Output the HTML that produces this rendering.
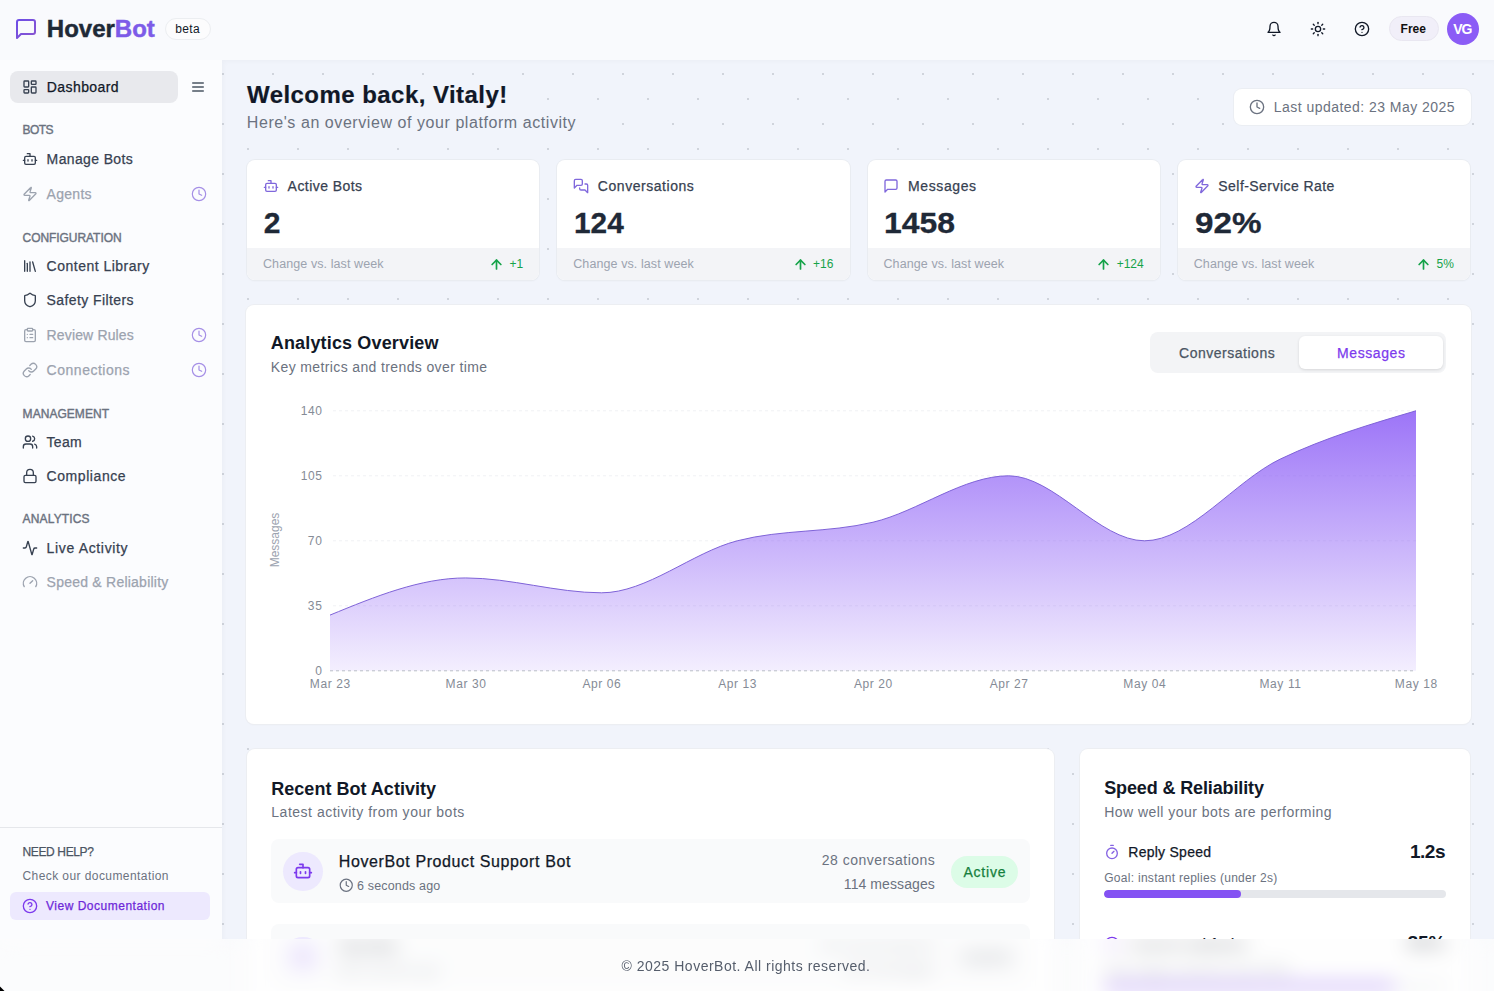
<!DOCTYPE html>
<html><head><meta charset="utf-8"><title>HoverBot Dashboard</title>
<style>
html,body{margin:0;padding:0;width:1494px;height:991px;overflow:hidden;background:#f8f9fc;font-family:"Liberation Sans",sans-serif}
</style></head><body>
<div style="position:absolute;left:0;top:0;width:1494px;height:939px;overflow:hidden"><div id="hdr" style="position:absolute;left:0;top:0;width:1494px;height:60px;background:#f9fafd"></div><svg style="position:absolute;left:14px;top:17px;" width="24" height="24" viewBox="0 0 24 24" fill="none" stroke="url(#lg)" stroke-width="2" stroke-linecap="round" stroke-linejoin="round"><path d="M21 15a2 2 0 0 1-2 2H7l-4 4V5a2 2 0 0 1 2-2h14a2 2 0 0 1 2 2z"/></svg><div style="position:absolute;left:46.80px;top:16.88px;white-space:nowrap;font-size:24px;font-weight:700;line-height:24px;color:#1f2937;letter-spacing:0.000px;-webkit-text-stroke:0.45px #1f2937">Hover</div><div style="position:absolute;left:114.83px;top:16.88px;white-space:nowrap;font-size:24px;font-weight:700;line-height:24px;color:#7d5be8;letter-spacing:0.000px;-webkit-text-stroke:0.45px #7d5be8">Bot</div><div style="position:absolute;left:164.5px;top:18px;width:46px;height:21.5px;border:1px solid #eceef1;border-radius:11px;background:#fcfcfd;box-sizing:border-box"></div><div style="position:absolute;left:175.30px;top:22.54px;white-space:nowrap;font-size:12px;font-weight:400;line-height:12px;color:#111827;letter-spacing:0.314px;">beta</div><svg style="position:absolute;left:1266px;top:21px;" width="16" height="16" viewBox="0 0 24 24" fill="none" stroke="#111827" stroke-width="2" stroke-linecap="round" stroke-linejoin="round"><path d="M6 8a6 6 0 0 1 12 0c0 7 3 9 3 9H3s3-2 3-9"/><path d="M10.3 21a1.94 1.94 0 0 0 3.4 0"/></svg><svg style="position:absolute;left:1310px;top:21px;" width="16" height="16" viewBox="0 0 24 24" fill="none" stroke="#111827" stroke-width="2" stroke-linecap="round" stroke-linejoin="round"><circle cx="12" cy="12" r="4"/><path d="M12 2v2"/><path d="M12 20v2"/><path d="m4.93 4.93 1.41 1.41"/><path d="m17.66 17.66 1.41 1.41"/><path d="M2 12h2"/><path d="M20 12h2"/><path d="m6.34 17.66-1.41 1.41"/><path d="m19.07 4.93-1.41 1.41"/></svg><svg style="position:absolute;left:1354px;top:21px;" width="16" height="16" viewBox="0 0 24 24" fill="none" stroke="#111827" stroke-width="2" stroke-linecap="round" stroke-linejoin="round"><circle cx="12" cy="12" r="10"/><path d="M9.09 9a3 3 0 0 1 5.83 1c0 2-3 3-3 3"/><path d="M12 17h.01"/></svg><div style="position:absolute;left:1388.5px;top:15.7px;width:50.4px;height:25.8px;border:1px solid #e9e7f1;border-radius:13px;background:#f1eff9;box-sizing:border-box"></div><div style="position:absolute;left:1400.60px;top:23.24px;white-space:nowrap;font-size:12px;font-weight:700;line-height:12px;color:#111111;letter-spacing:0.014px;">Free</div><div style="position:absolute;left:1447px;top:12.8px;width:32px;height:32px;border-radius:50%;background:#8b5cf6"></div><div style="position:absolute;left:1453.30px;top:22.35px;white-space:nowrap;font-size:14px;font-weight:700;line-height:14px;color:#ffffff;letter-spacing:-1.234px;">VG</div><div style="position:absolute;left:0;top:60px;width:222px;height:880px;background:#fbfcfe"></div><div style="position:absolute;left:10px;top:71px;width:168px;height:32px;border-radius:8px;background:#e8e9ed"></div><svg style="position:absolute;left:21.5px;top:79px;" width="16" height="16" viewBox="0 0 24 24" fill="none" stroke="#374151" stroke-width="2" stroke-linecap="round" stroke-linejoin="round"><rect width="7" height="9" x="3" y="3" rx="1"/><rect width="7" height="5" x="14" y="3" rx="1"/><rect width="7" height="9" x="14" y="12" rx="1"/><rect width="7" height="5" x="3" y="16" rx="1"/></svg><div style="position:absolute;left:46.80px;top:80.15px;white-space:nowrap;font-size:14px;font-weight:500;-webkit-text-stroke:0.25px #111827;line-height:14px;color:#111827;letter-spacing:0.412px;">Dashboard</div><svg style="position:absolute;left:190px;top:79px;" width="16" height="16" viewBox="0 0 24 24" fill="none" stroke="#4b5563" stroke-width="2" stroke-linecap="round" stroke-linejoin="round"><line x1="4" x2="20" y1="12" y2="12"/><line x1="4" x2="20" y1="6" y2="6"/><line x1="4" x2="20" y1="18" y2="18"/></svg><div style="position:absolute;left:22.60px;top:124.44px;white-space:nowrap;font-size:12px;font-weight:500;-webkit-text-stroke:0.25px #6b7280;line-height:12px;color:#6b7280;letter-spacing:-0.557px;-webkit-text-stroke:0.4px #6b7280">BOTS</div><svg style="position:absolute;left:21.5px;top:150.89999999999998px;" width="16" height="16" viewBox="0 0 24 24" fill="none" stroke="#374151" stroke-width="2" stroke-linecap="round" stroke-linejoin="round"><path d="M12 8V4H8"/><rect width="16" height="12" x="4" y="8" rx="2"/><path d="M2 14h2"/><path d="M20 14h2"/><path d="M15 13v2"/><path d="M9 13v2"/></svg><div style="position:absolute;left:46.60px;top:151.85px;white-space:nowrap;font-size:14px;font-weight:500;-webkit-text-stroke:0.25px #374151;line-height:14px;color:#374151;letter-spacing:0.370px;">Manage Bots</div><svg style="position:absolute;left:21.5px;top:185.7px;" width="16" height="16" viewBox="0 0 24 24" fill="none" stroke="#9ca3af" stroke-width="2" stroke-linecap="round" stroke-linejoin="round"><path d="M4 14a1 1 0 0 1-.78-1.63l9.9-10.2a.5.5 0 0 1 .86.46l-1.92 6.02A1 1 0 0 0 13 10h7a1 1 0 0 1 .78 1.63l-9.9 10.2a.5.5 0 0 1-.86-.46l1.92-6.02A1 1 0 0 0 11 14z"/></svg><div style="position:absolute;left:46.60px;top:186.65px;white-space:nowrap;font-size:14px;font-weight:500;-webkit-text-stroke:0.25px #9ca3af;line-height:14px;color:#9ca3af;letter-spacing:0.281px;">Agents</div><svg style="position:absolute;left:191px;top:185.7px;" width="16" height="16" viewBox="0 0 24 24" fill="none" stroke="#a58fe6" stroke-width="1.8" stroke-linecap="round" stroke-linejoin="round"><circle cx="12" cy="12" r="10"/><polyline points="12 6 12 12 16 14"/></svg><div style="position:absolute;left:22.60px;top:231.84px;white-space:nowrap;font-size:12px;font-weight:500;-webkit-text-stroke:0.25px #6b7280;line-height:12px;color:#6b7280;letter-spacing:-0.065px;-webkit-text-stroke:0.4px #6b7280">CONFIGURATION</div><svg style="position:absolute;left:21.5px;top:258.2px;" width="16" height="16" viewBox="0 0 24 24" fill="none" stroke="#374151" stroke-width="2" stroke-linecap="round" stroke-linejoin="round"><path d="m16 6 4 14"/><path d="M12 6v14"/><path d="M8 8v12"/><path d="M4 4v16"/></svg><div style="position:absolute;left:46.60px;top:259.15px;white-space:nowrap;font-size:14px;font-weight:500;-webkit-text-stroke:0.25px #374151;line-height:14px;color:#374151;letter-spacing:0.492px;">Content Library</div><svg style="position:absolute;left:21.5px;top:292.2px;" width="16" height="16" viewBox="0 0 24 24" fill="none" stroke="#374151" stroke-width="2" stroke-linecap="round" stroke-linejoin="round"><path d="M20 13c0 5-3.5 7.5-7.66 8.95a1 1 0 0 1-.67-.01C7.5 20.5 4 18 4 13V6a1 1 0 0 1 1-1c2 0 4.5-1.2 6.24-2.72a1.17 1.17 0 0 1 1.52 0C14.51 3.81 17 5 19 5a1 1 0 0 1 1 1z"/></svg><div style="position:absolute;left:46.60px;top:293.15px;white-space:nowrap;font-size:14px;font-weight:500;-webkit-text-stroke:0.25px #374151;line-height:14px;color:#374151;letter-spacing:0.407px;">Safety Filters</div><svg style="position:absolute;left:21.5px;top:326.9px;" width="16" height="16" viewBox="0 0 24 24" fill="none" stroke="#9ca3af" stroke-width="2" stroke-linecap="round" stroke-linejoin="round"><rect width="8" height="4" x="8" y="2" rx="1" ry="1"/><path d="M16 4h2a2 2 0 0 1 2 2v14a2 2 0 0 1-2 2H6a2 2 0 0 1-2-2V6a2 2 0 0 1 2-2h2"/><path d="M12 11h4"/><path d="M12 16h4"/><path d="M8 11h.01"/><path d="M8 16h.01"/></svg><div style="position:absolute;left:46.60px;top:327.85px;white-space:nowrap;font-size:14px;font-weight:500;-webkit-text-stroke:0.25px #9ca3af;line-height:14px;color:#9ca3af;letter-spacing:0.146px;">Review Rules</div><svg style="position:absolute;left:191px;top:326.9px;" width="16" height="16" viewBox="0 0 24 24" fill="none" stroke="#a58fe6" stroke-width="1.8" stroke-linecap="round" stroke-linejoin="round"><circle cx="12" cy="12" r="10"/><polyline points="12 6 12 12 16 14"/></svg><svg style="position:absolute;left:21.5px;top:361.59999999999997px;" width="16" height="16" viewBox="0 0 24 24" fill="none" stroke="#9ca3af" stroke-width="2" stroke-linecap="round" stroke-linejoin="round"><path d="M10 13a5 5 0 0 0 7.54.54l3-3a5 5 0 0 0-7.07-7.07l-1.72 1.71"/><path d="M14 11a5 5 0 0 0-7.54-.54l-3 3a5 5 0 0 0 7.07 7.07l1.71-1.71"/></svg><div style="position:absolute;left:46.60px;top:362.55px;white-space:nowrap;font-size:14px;font-weight:500;-webkit-text-stroke:0.25px #9ca3af;line-height:14px;color:#9ca3af;letter-spacing:0.517px;">Connections</div><svg style="position:absolute;left:191px;top:361.59999999999997px;" width="16" height="16" viewBox="0 0 24 24" fill="none" stroke="#a58fe6" stroke-width="1.8" stroke-linecap="round" stroke-linejoin="round"><circle cx="12" cy="12" r="10"/><polyline points="12 6 12 12 16 14"/></svg><div style="position:absolute;left:22.60px;top:408.04px;white-space:nowrap;font-size:12px;font-weight:500;-webkit-text-stroke:0.25px #6b7280;line-height:12px;color:#6b7280;letter-spacing:0.043px;-webkit-text-stroke:0.4px #6b7280">MANAGEMENT</div><svg style="position:absolute;left:21.5px;top:434.2px;" width="16" height="16" viewBox="0 0 24 24" fill="none" stroke="#374151" stroke-width="2" stroke-linecap="round" stroke-linejoin="round"><path d="M16 21v-2a4 4 0 0 0-4-4H6a4 4 0 0 0-4 4v2"/><circle cx="9" cy="7" r="4"/><path d="M22 21v-2a4 4 0 0 0-3-3.87"/><path d="M16 3.13a4 4 0 0 1 0 7.75"/></svg><div style="position:absolute;left:46.60px;top:435.15px;white-space:nowrap;font-size:14px;font-weight:500;-webkit-text-stroke:0.25px #374151;line-height:14px;color:#374151;letter-spacing:0.255px;">Team</div><svg style="position:absolute;left:21.5px;top:468.3px;" width="16" height="16" viewBox="0 0 24 24" fill="none" stroke="#374151" stroke-width="2" stroke-linecap="round" stroke-linejoin="round"><rect width="18" height="11" x="3" y="11" rx="2" ry="2"/><path d="M7 11V7a5 5 0 0 1 10 0v4"/></svg><div style="position:absolute;left:46.60px;top:469.25px;white-space:nowrap;font-size:14px;font-weight:500;-webkit-text-stroke:0.25px #374151;line-height:14px;color:#374151;letter-spacing:0.562px;">Compliance</div><div style="position:absolute;left:22.60px;top:513.34px;white-space:nowrap;font-size:12px;font-weight:500;-webkit-text-stroke:0.25px #6b7280;line-height:12px;color:#6b7280;letter-spacing:0.150px;-webkit-text-stroke:0.4px #6b7280">ANALYTICS</div><svg style="position:absolute;left:21.5px;top:539.6px;" width="16" height="16" viewBox="0 0 24 24" fill="none" stroke="#374151" stroke-width="2" stroke-linecap="round" stroke-linejoin="round"><path d="M22 12h-2.48a2 2 0 0 0-1.93 1.46l-2.35 8.36a.25.25 0 0 1-.48 0L9.24 2.18a.25.25 0 0 0-.48 0l-2.35 8.36A2 2 0 0 1 4.49 12H2"/></svg><div style="position:absolute;left:46.60px;top:540.55px;white-space:nowrap;font-size:14px;font-weight:500;-webkit-text-stroke:0.25px #374151;line-height:14px;color:#374151;letter-spacing:0.655px;">Live Activity</div><svg style="position:absolute;left:21.5px;top:573.9000000000001px;" width="16" height="16" viewBox="0 0 24 24" fill="none" stroke="#9ca3af" stroke-width="2" stroke-linecap="round" stroke-linejoin="round"><path d="m12 14 4-4"/><path d="M3.34 19a10 10 0 1 1 17.32 0"/></svg><div style="position:absolute;left:46.60px;top:574.85px;white-space:nowrap;font-size:14px;font-weight:500;-webkit-text-stroke:0.25px #9ca3af;line-height:14px;color:#9ca3af;letter-spacing:0.232px;">Speed & Reliability</div><div style="position:absolute;left:0;top:827px;width:222px;height:1px;background:#e5e7eb"></div><div style="position:absolute;left:22.50px;top:846.24px;white-space:nowrap;font-size:12px;font-weight:500;-webkit-text-stroke:0.25px #4b5563;line-height:12px;color:#4b5563;letter-spacing:-0.367px;">NEED HELP?</div><div style="position:absolute;left:22.50px;top:869.84px;white-space:nowrap;font-size:12px;font-weight:400;line-height:12px;color:#6b7280;letter-spacing:0.420px;">Check our documentation</div><div style="position:absolute;left:10.3px;top:892px;width:199.6px;height:27.5px;border-radius:6px;background:#ede9fe"></div><svg style="position:absolute;left:22px;top:898px;" width="16" height="16" viewBox="0 0 24 24" fill="none" stroke="#7c3aed" stroke-width="2" stroke-linecap="round" stroke-linejoin="round"><circle cx="12" cy="12" r="10"/><path d="M9.09 9a3 3 0 0 1 5.83 1c0 2-3 3-3 3"/><path d="M12 17h.01"/></svg><div style="position:absolute;left:46.00px;top:900.34px;white-space:nowrap;font-size:12px;font-weight:500;-webkit-text-stroke:0.25px #6d28d9;line-height:12px;color:#6d28d9;letter-spacing:0.509px;">View Documentation</div><div id="main" style="position:absolute;left:222px;top:60px;width:1272px;height:879px;background-color:#f1f4fb;box-shadow:inset 2px 2px 4px rgba(0,0,0,0.025);background-image:radial-gradient(circle at center,#d0d4dc 0.8px,rgba(208,212,220,0) 1.4px),radial-gradient(circle at center,#d0d4dc 0.8px,rgba(208,212,220,0) 1.4px);background-size:50px 50px,50px 50px;background-position:-24px -11px,1px 14px"></div><div style="position:absolute;left:247.00px;top:82.78px;white-space:nowrap;font-size:24px;font-weight:700;line-height:24px;color:#111827;letter-spacing:0.448px;background:#f1f4fb;-webkit-text-stroke:0.2px #111827">Welcome back, Vitaly!</div><div style="position:absolute;left:246.80px;top:114.96px;white-space:nowrap;font-size:16px;font-weight:400;line-height:16px;color:#6b7280;letter-spacing:0.565px;background:#f1f4fb">Here's an overview of your platform activity</div><div style="position:absolute;left:1233.5px;top:88.6px;width:237.8px;height:36.4px;border-radius:8px;background:#ffffff;box-shadow:0 0 0 1px rgba(229,231,235,0.5)"></div><svg style="position:absolute;left:1248.5px;top:98.8px;" width="16" height="16" viewBox="0 0 24 24" fill="none" stroke="#6b7280" stroke-width="2" stroke-linecap="round" stroke-linejoin="round"><circle cx="12" cy="12" r="10"/><polyline points="12 6 12 12 16 14"/></svg><div style="position:absolute;left:1273.80px;top:100.35px;white-space:nowrap;font-size:14px;font-weight:400;line-height:14px;color:#6b7280;letter-spacing:0.459px;">Last updated: 23 May 2025</div><div style="position:absolute;left:247.0px;top:160px;width:292.25px;height:120px;border-radius:8px;background:#fff;overflow:hidden;box-shadow:0 0 0 1px #e9ecf1,0 1px 2px rgba(0,0,0,0.05)"><div style="position:absolute;left:0;top:88px;width:100%;height:32px;background:#f3f4f7"></div></div><svg style="position:absolute;left:262.8px;top:178.3px;" width="16" height="16" viewBox="0 0 24 24" fill="none" stroke="#8068dc" stroke-width="2" stroke-linecap="round" stroke-linejoin="round"><path d="M12 8V4H8"/><rect width="16" height="12" x="4" y="8" rx="2"/><path d="M2 14h2"/><path d="M20 14h2"/><path d="M15 13v2"/><path d="M9 13v2"/></svg><div style="position:absolute;left:287.60px;top:179.05px;white-space:nowrap;font-size:14px;font-weight:500;-webkit-text-stroke:0.25px #374151;line-height:14px;color:#374151;letter-spacing:0.447px;">Active Bots</div><div style="position:absolute;left:263.80px;top:207.60px;white-space:nowrap;font-size:30px;font-weight:700;line-height:30px;color:#1f2937;letter-spacing:0.000px;-webkit-text-stroke:0.3px #1f2937">2</div><div style="position:absolute;left:263.00px;top:257.52px;white-space:nowrap;font-size:12.5px;font-weight:400;line-height:12.5px;color:#9ca3af;letter-spacing:0.089px;">Change vs. last week</div><div style="position:absolute;left:509.51px;top:257.64px;white-space:nowrap;font-size:12px;font-weight:400;line-height:12px;color:#16a34a;letter-spacing:0.000px;">+1</div><svg style="position:absolute;left:0px;top:0px;left:489.11px;top:256.5px" width="15" height="15" viewBox="0 0 24 24" fill="none" stroke="#16a34a" stroke-width="2.7" stroke-linecap="round" stroke-linejoin="round"><path d="m5 12 7-7 7 7"/><path d="M12 19V5"/></svg><div style="position:absolute;left:557.25px;top:160px;width:292.25px;height:120px;border-radius:8px;background:#fff;overflow:hidden;box-shadow:0 0 0 1px #e9ecf1,0 1px 2px rgba(0,0,0,0.05)"><div style="position:absolute;left:0;top:88px;width:100%;height:32px;background:#f3f4f7"></div></div><svg style="position:absolute;left:573.05px;top:178.3px;" width="16" height="16" viewBox="0 0 24 24" fill="none" stroke="#8068dc" stroke-width="2" stroke-linecap="round" stroke-linejoin="round"><path d="M14 9a2 2 0 0 1-2 2H6l-4 4V4c0-1.1.9-2 2-2h8a2 2 0 0 1 2 2v5Z"/><path d="M18 9h2a2 2 0 0 1 2 2v11l-4-4h-6a2 2 0 0 1-2-2v-1"/></svg><div style="position:absolute;left:597.85px;top:179.05px;white-space:nowrap;font-size:14px;font-weight:500;-webkit-text-stroke:0.25px #374151;line-height:14px;color:#374151;letter-spacing:0.542px;">Conversations</div><div style="position:absolute;left:574.05px;top:207.60px;white-space:nowrap;font-size:30px;font-weight:700;line-height:30px;color:#1f2937;letter-spacing:0.000px;-webkit-text-stroke:0.3px #1f2937;transform:scaleX(0.9928);transform-origin:0 0">124</div><div style="position:absolute;left:573.25px;top:257.52px;white-space:nowrap;font-size:12.5px;font-weight:400;line-height:12.5px;color:#9ca3af;letter-spacing:0.089px;">Change vs. last week</div><div style="position:absolute;left:813.09px;top:257.64px;white-space:nowrap;font-size:12px;font-weight:400;line-height:12px;color:#16a34a;letter-spacing:0.000px;">+16</div><svg style="position:absolute;left:0px;top:0px;left:792.69px;top:256.5px" width="15" height="15" viewBox="0 0 24 24" fill="none" stroke="#16a34a" stroke-width="2.7" stroke-linecap="round" stroke-linejoin="round"><path d="m5 12 7-7 7 7"/><path d="M12 19V5"/></svg><div style="position:absolute;left:867.5px;top:160px;width:292.25px;height:120px;border-radius:8px;background:#fff;overflow:hidden;box-shadow:0 0 0 1px #e9ecf1,0 1px 2px rgba(0,0,0,0.05)"><div style="position:absolute;left:0;top:88px;width:100%;height:32px;background:#f3f4f7"></div></div><svg style="position:absolute;left:883.3px;top:178.3px;" width="16" height="16" viewBox="0 0 24 24" fill="none" stroke="#8068dc" stroke-width="2" stroke-linecap="round" stroke-linejoin="round"><path d="M21 15a2 2 0 0 1-2 2H7l-4 4V5a2 2 0 0 1 2-2h14a2 2 0 0 1 2 2z"/></svg><div style="position:absolute;left:908.10px;top:179.05px;white-space:nowrap;font-size:14px;font-weight:500;-webkit-text-stroke:0.25px #374151;line-height:14px;color:#374151;letter-spacing:0.598px;">Messages</div><div style="position:absolute;left:884.30px;top:207.60px;white-space:nowrap;font-size:30px;font-weight:700;line-height:30px;color:#1f2937;letter-spacing:0.000px;-webkit-text-stroke:0.3px #1f2937;transform:scaleX(1.0637);transform-origin:0 0">1458</div><div style="position:absolute;left:883.50px;top:257.52px;white-space:nowrap;font-size:12.5px;font-weight:400;line-height:12.5px;color:#9ca3af;letter-spacing:0.089px;">Change vs. last week</div><div style="position:absolute;left:1116.67px;top:257.64px;white-space:nowrap;font-size:12px;font-weight:400;line-height:12px;color:#16a34a;letter-spacing:0.000px;">+124</div><svg style="position:absolute;left:0px;top:0px;left:1096.27px;top:256.5px" width="15" height="15" viewBox="0 0 24 24" fill="none" stroke="#16a34a" stroke-width="2.7" stroke-linecap="round" stroke-linejoin="round"><path d="m5 12 7-7 7 7"/><path d="M12 19V5"/></svg><div style="position:absolute;left:1177.75px;top:160px;width:292.25px;height:120px;border-radius:8px;background:#fff;overflow:hidden;box-shadow:0 0 0 1px #e9ecf1,0 1px 2px rgba(0,0,0,0.05)"><div style="position:absolute;left:0;top:88px;width:100%;height:32px;background:#f3f4f7"></div></div><svg style="position:absolute;left:1193.55px;top:178.3px;" width="16" height="16" viewBox="0 0 24 24" fill="none" stroke="#8068dc" stroke-width="2" stroke-linecap="round" stroke-linejoin="round"><path d="M4 14a1 1 0 0 1-.78-1.63l9.9-10.2a.5.5 0 0 1 .86.46l-1.92 6.02A1 1 0 0 0 13 10h7a1 1 0 0 1 .78 1.63l-9.9 10.2a.5.5 0 0 1-.86-.46l1.92-6.02A1 1 0 0 0 11 14z"/></svg><div style="position:absolute;left:1218.35px;top:179.05px;white-space:nowrap;font-size:14px;font-weight:500;-webkit-text-stroke:0.25px #374151;line-height:14px;color:#374151;letter-spacing:0.441px;">Self-Service Rate</div><div style="position:absolute;left:1194.55px;top:207.60px;white-space:nowrap;font-size:30px;font-weight:700;line-height:30px;color:#1f2937;letter-spacing:0.000px;-webkit-text-stroke:0.3px #1f2937;transform:scaleX(1.1075);transform-origin:0 0">92%</div><div style="position:absolute;left:1193.75px;top:257.52px;white-space:nowrap;font-size:12.5px;font-weight:400;line-height:12.5px;color:#9ca3af;letter-spacing:0.089px;">Change vs. last week</div><div style="position:absolute;left:1436.61px;top:257.64px;white-space:nowrap;font-size:12px;font-weight:400;line-height:12px;color:#16a34a;letter-spacing:0.000px;">5%</div><svg style="position:absolute;left:0px;top:0px;left:1416.21px;top:256.5px" width="15" height="15" viewBox="0 0 24 24" fill="none" stroke="#16a34a" stroke-width="2.7" stroke-linecap="round" stroke-linejoin="round"><path d="m5 12 7-7 7 7"/><path d="M12 19V5"/></svg><div style="position:absolute;left:246px;top:305px;width:1225px;height:419px;border-radius:8px;background:#fff;box-shadow:0 0 0 1px #eceef2,0 1px 2px rgba(0,0,0,0.04)"></div><div style="position:absolute;left:270.80px;top:334.26px;white-space:nowrap;font-size:18px;font-weight:600;line-height:18px;color:#111827;letter-spacing:0.153px;">Analytics Overview</div><div style="position:absolute;left:270.80px;top:360.15px;white-space:nowrap;font-size:14px;font-weight:400;line-height:14px;color:#6b7280;letter-spacing:0.373px;">Key metrics and trends over time</div><div style="position:absolute;left:1150px;top:332.4px;width:295.6px;height:40.4px;border-radius:8px;background:#f3f4f6"></div><div style="position:absolute;left:1299px;top:336.4px;width:144px;height:33px;border-radius:6px;background:#fff;box-shadow:0 1px 3px rgba(0,0,0,0.12)"></div><div style="position:absolute;left:1179.00px;top:346.45px;white-space:nowrap;font-size:14px;font-weight:500;-webkit-text-stroke:0.25px #4b5563;line-height:14px;color:#4b5563;letter-spacing:0.517px;">Conversations</div><div style="position:absolute;left:1337.00px;top:346.45px;white-space:nowrap;font-size:14px;font-weight:500;-webkit-text-stroke:0.25px #7c3aed;line-height:14px;color:#7c3aed;letter-spacing:0.598px;">Messages</div><svg style="position:absolute;left:0;top:0" width="1494" height="991"><defs><linearGradient id="ag" x1="0" y1="0" x2="0" y2="1"><stop offset="0" stop-color="#8b5cf6" stop-opacity="0.85"/><stop offset="1" stop-color="#8b5cf6" stop-opacity="0.1"/></linearGradient><linearGradient id="lg" x1="0" y1="0" x2="1" y2="1"><stop offset="0" stop-color="#6d4de6"/><stop offset="1" stop-color="#8a55d0"/></linearGradient></defs><line x1="333" x2="1416" y1="605.80" y2="605.80" stroke="#f0f1f4" stroke-width="1" stroke-dasharray="3 3"/><line x1="333" x2="1416" y1="540.80" y2="540.80" stroke="#f0f1f4" stroke-width="1" stroke-dasharray="3 3"/><line x1="333" x2="1416" y1="475.80" y2="475.80" stroke="#f0f1f4" stroke-width="1" stroke-dasharray="3 3"/><line x1="333" x2="1416" y1="410.80" y2="410.80" stroke="#f0f1f4" stroke-width="1" stroke-dasharray="3 3"/><path d="M330.00,615.09C375.25,596.51,420.50,577.94,465.75,577.94C511.00,577.94,556.25,592.80,601.50,592.80C646.75,592.80,692.00,552.56,737.25,540.80C782.50,529.04,827.75,533.06,873.00,522.23C918.25,511.40,963.50,475.80,1008.75,475.80C1054.00,475.80,1099.25,540.80,1144.50,540.80C1189.75,540.80,1235.00,480.75,1280.25,459.09C1325.50,437.42,1370.75,424.11,1416.00,410.80L1416.00,670.80L330.00,670.80Z" fill="url(#ag)"/><path d="M330.00,615.09C375.25,596.51,420.50,577.94,465.75,577.94C511.00,577.94,556.25,592.80,601.50,592.80C646.75,592.80,692.00,552.56,737.25,540.80C782.50,529.04,827.75,533.06,873.00,522.23C918.25,511.40,963.50,475.80,1008.75,475.80C1054.00,475.80,1099.25,540.80,1144.50,540.80C1189.75,540.80,1235.00,480.75,1280.25,459.09C1325.50,437.42,1370.75,424.11,1416.00,410.80" fill="none" stroke="#7f63d8" stroke-width="1"/><line x1="330" x2="1416" y1="670.80" y2="670.80" stroke="#b9bec7" stroke-width="1" stroke-dasharray="3 3"/></svg><div style="position:absolute;left:315.31px;top:664.94px;white-space:nowrap;font-size:12px;font-weight:400;line-height:12px;color:#858b96;letter-spacing:0.000px;">0</div><div style="position:absolute;left:307.84px;top:599.94px;white-space:nowrap;font-size:12px;font-weight:400;line-height:12px;color:#858b96;letter-spacing:0.802px;">35</div><div style="position:absolute;left:307.84px;top:534.94px;white-space:nowrap;font-size:12px;font-weight:400;line-height:12px;color:#858b96;letter-spacing:0.802px;">70</div><div style="position:absolute;left:300.77px;top:469.94px;white-space:nowrap;font-size:12px;font-weight:400;line-height:12px;color:#858b96;letter-spacing:0.601px;">105</div><div style="position:absolute;left:300.77px;top:404.94px;white-space:nowrap;font-size:12px;font-weight:400;line-height:12px;color:#858b96;letter-spacing:0.601px;">140</div><div style="position:absolute;left:309.83px;top:678.14px;white-space:nowrap;font-size:12px;font-weight:400;line-height:12px;color:#858b96;letter-spacing:0.598px;">Mar 23</div><div style="position:absolute;left:445.58px;top:678.14px;white-space:nowrap;font-size:12px;font-weight:400;line-height:12px;color:#858b96;letter-spacing:0.598px;">Mar 30</div><div style="position:absolute;left:582.41px;top:678.14px;white-space:nowrap;font-size:12px;font-weight:400;line-height:12px;color:#858b96;letter-spacing:0.566px;">Apr 06</div><div style="position:absolute;left:718.16px;top:678.14px;white-space:nowrap;font-size:12px;font-weight:400;line-height:12px;color:#858b96;letter-spacing:0.566px;">Apr 13</div><div style="position:absolute;left:853.91px;top:678.14px;white-space:nowrap;font-size:12px;font-weight:400;line-height:12px;color:#858b96;letter-spacing:0.566px;">Apr 20</div><div style="position:absolute;left:989.66px;top:678.14px;white-space:nowrap;font-size:12px;font-weight:400;line-height:12px;color:#858b96;letter-spacing:0.566px;">Apr 27</div><div style="position:absolute;left:1123.25px;top:678.14px;white-space:nowrap;font-size:12px;font-weight:400;line-height:12px;color:#858b96;letter-spacing:0.630px;">May 04</div><div style="position:absolute;left:1259.48px;top:678.14px;white-space:nowrap;font-size:12px;font-weight:400;line-height:12px;color:#858b96;letter-spacing:0.616px;">May 11</div><div style="position:absolute;left:1394.75px;top:678.14px;white-space:nowrap;font-size:12px;font-weight:400;line-height:12px;color:#858b96;letter-spacing:0.630px;">May 18</div><div style="position:absolute;left:275px;top:540px;width:0;height:0"><div style="position:absolute;transform:translate(-50%,-50%) rotate(-90deg);white-space:nowrap;font-size:12px;color:#9ca3af;line-height:12px">Messages</div></div><div style="position:absolute;left:246.6px;top:749.3px;width:807.4px;height:400px;border-radius:8px;background:#fff;box-shadow:0 0 0 1px #eceef2,0 1px 2px rgba(0,0,0,0.04)"></div><div style="position:absolute;left:271.30px;top:779.66px;white-space:nowrap;font-size:18px;font-weight:600;line-height:18px;color:#111827;letter-spacing:0.018px;">Recent Bot Activity</div><div style="position:absolute;left:271.30px;top:804.95px;white-space:nowrap;font-size:14px;font-weight:400;line-height:14px;color:#6b7280;letter-spacing:0.511px;">Latest activity from your bots</div><div style="position:absolute;left:271px;top:838.8px;width:759px;height:64.7px;border-radius:8px;background:#f9fafb"></div><div style="position:absolute;left:283px;top:851.8px;width:39.5px;height:39.5px;border-radius:50%;background:#ede9fe"></div><svg style="position:absolute;left:292.5px;top:861.3px;" width="20" height="20" viewBox="0 0 24 24" fill="none" stroke="#7c3aed" stroke-width="2" stroke-linecap="round" stroke-linejoin="round"><path d="M12 8V4H8"/><rect width="16" height="12" x="4" y="8" rx="2"/><path d="M2 14h2"/><path d="M20 14h2"/><path d="M15 13v2"/><path d="M9 13v2"/></svg><div style="position:absolute;left:338.80px;top:853.76px;white-space:nowrap;font-size:16px;font-weight:500;-webkit-text-stroke:0.25px #111827;line-height:16px;color:#111827;letter-spacing:0.606px;">HoverBot Product Support Bot</div><svg style="position:absolute;left:338.7px;top:878.0999999999999px;" width="14.5" height="14.5" viewBox="0 0 24 24" fill="none" stroke="#6b7280" stroke-width="2" stroke-linecap="round" stroke-linejoin="round"><circle cx="12" cy="12" r="10"/><polyline points="12 6 12 12 16 14"/></svg><div style="position:absolute;left:357.00px;top:879.82px;white-space:nowrap;font-size:12.5px;font-weight:400;line-height:12.5px;color:#6b7280;letter-spacing:0.166px;">6 seconds ago</div><div style="position:absolute;left:821.80px;top:852.75px;white-space:nowrap;font-size:14px;font-weight:400;line-height:14px;color:#6b7280;letter-spacing:0.477px;">28 conversations</div><div style="position:absolute;left:843.80px;top:877.45px;white-space:nowrap;font-size:14px;font-weight:400;line-height:14px;color:#6b7280;letter-spacing:0.089px;">114 messages</div><div style="position:absolute;left:950.8px;top:856.4px;width:67.5px;height:31.8px;border-radius:16px;background:#dcfce7"></div><div style="position:absolute;left:963.40px;top:865.25px;white-space:nowrap;font-size:14px;font-weight:500;-webkit-text-stroke:0.25px #15803d;line-height:14px;color:#15803d;letter-spacing:0.815px;">Active</div><div style="position:absolute;left:271px;top:923.8px;width:759px;height:64.7px;border-radius:8px;background:#f9fafb"></div><div style="position:absolute;left:283px;top:936.8px;width:39.5px;height:39.5px;border-radius:50%;background:#ede9fe"></div><svg style="position:absolute;left:292.5px;top:946.3px;" width="20" height="20" viewBox="0 0 24 24" fill="none" stroke="#7c3aed" stroke-width="2" stroke-linecap="round" stroke-linejoin="round"><path d="M12 8V4H8"/><rect width="16" height="12" x="4" y="8" rx="2"/><path d="M2 14h2"/><path d="M20 14h2"/><path d="M15 13v2"/><path d="M9 13v2"/></svg><div style="position:absolute;left:338.80px;top:938.76px;white-space:nowrap;font-size:16px;font-weight:500;-webkit-text-stroke:0.25px #111827;line-height:16px;color:#111827;letter-spacing:0.000px;">Test Bot</div><svg style="position:absolute;left:338.7px;top:963.0999999999999px;" width="14.5" height="14.5" viewBox="0 0 24 24" fill="none" stroke="#6b7280" stroke-width="2" stroke-linecap="round" stroke-linejoin="round"><circle cx="12" cy="12" r="10"/><polyline points="12 6 12 12 16 14"/></svg><div style="position:absolute;left:357.00px;top:964.82px;white-space:nowrap;font-size:12.5px;font-weight:400;line-height:12.5px;color:#6b7280;letter-spacing:0.000px;">6 seconds ago</div><div style="position:absolute;left:821.80px;top:937.75px;white-space:nowrap;font-size:14px;font-weight:400;line-height:14px;color:#6b7280;letter-spacing:0.477px;">28 conversations</div><div style="position:absolute;left:843.80px;top:962.45px;white-space:nowrap;font-size:14px;font-weight:400;line-height:14px;color:#6b7280;letter-spacing:0.089px;">114 messages</div><div style="position:absolute;left:950.8px;top:941.4px;width:67.5px;height:31.8px;border-radius:16px;background:#f3f4f6"></div><div style="position:absolute;left:963.40px;top:950.25px;white-space:nowrap;font-size:14px;font-weight:500;-webkit-text-stroke:0.25px #4b5563;line-height:14px;color:#4b5563;letter-spacing:0.000px;">Inactive</div><div style="position:absolute;left:1079.8px;top:749.3px;width:390.4px;height:400px;border-radius:8px;background:#fff;box-shadow:0 0 0 1px #eceef2,0 1px 2px rgba(0,0,0,0.04)"></div><div style="position:absolute;left:1104.20px;top:779.06px;white-space:nowrap;font-size:18px;font-weight:600;line-height:18px;color:#111827;letter-spacing:-0.125px;">Speed & Reliability</div><div style="position:absolute;left:1104.20px;top:805.45px;white-space:nowrap;font-size:14px;font-weight:400;line-height:14px;color:#6b7280;letter-spacing:0.468px;">How well your bots are performing</div><svg style="position:absolute;left:1104px;top:844px;" width="16" height="16" viewBox="0 0 24 24" fill="none" stroke="#8563e3" stroke-width="2" stroke-linecap="round" stroke-linejoin="round"><line x1="10" x2="14" y1="2" y2="2"/><line x1="12" x2="15" y1="14" y2="11"/><circle cx="12" cy="14" r="8"/></svg><div style="position:absolute;left:1128.30px;top:845.15px;white-space:nowrap;font-size:14px;font-weight:500;-webkit-text-stroke:0.25px #111827;line-height:14px;color:#111827;letter-spacing:0.253px;">Reply Speed</div><div style="position:absolute;left:1410.00px;top:842.12px;white-space:nowrap;font-size:19px;font-weight:700;line-height:19px;color:#111827;letter-spacing:-0.495px;">1.2s</div><div style="position:absolute;left:1104.20px;top:871.64px;white-space:nowrap;font-size:12px;font-weight:400;line-height:12px;color:#6b7280;letter-spacing:0.287px;">Goal: instant replies (under 2s)</div><div style="position:absolute;left:1104px;top:889.6px;width:342px;height:8.7px;border-radius:5px;background:#e5e7eb;overflow:hidden"><div style="width:40%;height:100%;border-radius:5px;background:#8452f3"></div></div><svg style="position:absolute;left:1103.5px;top:936px;" width="16" height="16" viewBox="0 0 24 24" fill="none" stroke="#7c3aed" stroke-width="2" stroke-linecap="round" stroke-linejoin="round"><circle cx="12" cy="12" r="10"/><polyline points="12 6 12 12 16 14"/></svg><div style="position:absolute;left:1128.30px;top:936.95px;white-space:nowrap;font-size:14px;font-weight:500;-webkit-text-stroke:0.25px #111827;line-height:14px;color:#111827;letter-spacing:-0.730px;">Customer satisfaction</div><div style="position:absolute;left:1407.47px;top:933.42px;white-space:nowrap;font-size:19px;font-weight:700;line-height:19px;color:#111827;letter-spacing:0.000px;">85%</div><div style="position:absolute;left:1104.20px;top:963.84px;white-space:nowrap;font-size:12px;font-weight:400;line-height:12px;color:#4b5563;letter-spacing:0.000px;">Goal: happy customers (over 90%)</div><div style="position:absolute;left:1104px;top:982px;width:342px;height:8.7px;border-radius:5px;background:#e5e7eb;overflow:hidden"><div style="width:85%;height:100%;border-radius:5px;background:#8452f3"></div></div></div><div style="position:absolute;left:0;top:939px;width:1494px;height:52px;overflow:hidden"><div style="position:absolute;left:0;top:-939px;width:1494px;height:991px;filter:blur(10px)"><div id="hdr" style="position:absolute;left:0;top:0;width:1494px;height:60px;background:#f9fafd"></div><svg style="position:absolute;left:14px;top:17px;" width="24" height="24" viewBox="0 0 24 24" fill="none" stroke="url(#lg)" stroke-width="2" stroke-linecap="round" stroke-linejoin="round"><path d="M21 15a2 2 0 0 1-2 2H7l-4 4V5a2 2 0 0 1 2-2h14a2 2 0 0 1 2 2z"/></svg><div style="position:absolute;left:46.80px;top:16.88px;white-space:nowrap;font-size:24px;font-weight:700;line-height:24px;color:#1f2937;letter-spacing:0.000px;-webkit-text-stroke:0.45px #1f2937">Hover</div><div style="position:absolute;left:114.83px;top:16.88px;white-space:nowrap;font-size:24px;font-weight:700;line-height:24px;color:#7d5be8;letter-spacing:0.000px;-webkit-text-stroke:0.45px #7d5be8">Bot</div><div style="position:absolute;left:164.5px;top:18px;width:46px;height:21.5px;border:1px solid #eceef1;border-radius:11px;background:#fcfcfd;box-sizing:border-box"></div><div style="position:absolute;left:175.30px;top:22.54px;white-space:nowrap;font-size:12px;font-weight:400;line-height:12px;color:#111827;letter-spacing:0.314px;">beta</div><svg style="position:absolute;left:1266px;top:21px;" width="16" height="16" viewBox="0 0 24 24" fill="none" stroke="#111827" stroke-width="2" stroke-linecap="round" stroke-linejoin="round"><path d="M6 8a6 6 0 0 1 12 0c0 7 3 9 3 9H3s3-2 3-9"/><path d="M10.3 21a1.94 1.94 0 0 0 3.4 0"/></svg><svg style="position:absolute;left:1310px;top:21px;" width="16" height="16" viewBox="0 0 24 24" fill="none" stroke="#111827" stroke-width="2" stroke-linecap="round" stroke-linejoin="round"><circle cx="12" cy="12" r="4"/><path d="M12 2v2"/><path d="M12 20v2"/><path d="m4.93 4.93 1.41 1.41"/><path d="m17.66 17.66 1.41 1.41"/><path d="M2 12h2"/><path d="M20 12h2"/><path d="m6.34 17.66-1.41 1.41"/><path d="m19.07 4.93-1.41 1.41"/></svg><svg style="position:absolute;left:1354px;top:21px;" width="16" height="16" viewBox="0 0 24 24" fill="none" stroke="#111827" stroke-width="2" stroke-linecap="round" stroke-linejoin="round"><circle cx="12" cy="12" r="10"/><path d="M9.09 9a3 3 0 0 1 5.83 1c0 2-3 3-3 3"/><path d="M12 17h.01"/></svg><div style="position:absolute;left:1388.5px;top:15.7px;width:50.4px;height:25.8px;border:1px solid #e9e7f1;border-radius:13px;background:#f1eff9;box-sizing:border-box"></div><div style="position:absolute;left:1400.60px;top:23.24px;white-space:nowrap;font-size:12px;font-weight:700;line-height:12px;color:#111111;letter-spacing:0.014px;">Free</div><div style="position:absolute;left:1447px;top:12.8px;width:32px;height:32px;border-radius:50%;background:#8b5cf6"></div><div style="position:absolute;left:1453.30px;top:22.35px;white-space:nowrap;font-size:14px;font-weight:700;line-height:14px;color:#ffffff;letter-spacing:-1.234px;">VG</div><div style="position:absolute;left:0;top:60px;width:222px;height:880px;background:#fbfcfe"></div><div style="position:absolute;left:10px;top:71px;width:168px;height:32px;border-radius:8px;background:#e8e9ed"></div><svg style="position:absolute;left:21.5px;top:79px;" width="16" height="16" viewBox="0 0 24 24" fill="none" stroke="#374151" stroke-width="2" stroke-linecap="round" stroke-linejoin="round"><rect width="7" height="9" x="3" y="3" rx="1"/><rect width="7" height="5" x="14" y="3" rx="1"/><rect width="7" height="9" x="14" y="12" rx="1"/><rect width="7" height="5" x="3" y="16" rx="1"/></svg><div style="position:absolute;left:46.80px;top:80.15px;white-space:nowrap;font-size:14px;font-weight:500;-webkit-text-stroke:0.25px #111827;line-height:14px;color:#111827;letter-spacing:0.412px;">Dashboard</div><svg style="position:absolute;left:190px;top:79px;" width="16" height="16" viewBox="0 0 24 24" fill="none" stroke="#4b5563" stroke-width="2" stroke-linecap="round" stroke-linejoin="round"><line x1="4" x2="20" y1="12" y2="12"/><line x1="4" x2="20" y1="6" y2="6"/><line x1="4" x2="20" y1="18" y2="18"/></svg><div style="position:absolute;left:22.60px;top:124.44px;white-space:nowrap;font-size:12px;font-weight:500;-webkit-text-stroke:0.25px #6b7280;line-height:12px;color:#6b7280;letter-spacing:-0.557px;-webkit-text-stroke:0.4px #6b7280">BOTS</div><svg style="position:absolute;left:21.5px;top:150.89999999999998px;" width="16" height="16" viewBox="0 0 24 24" fill="none" stroke="#374151" stroke-width="2" stroke-linecap="round" stroke-linejoin="round"><path d="M12 8V4H8"/><rect width="16" height="12" x="4" y="8" rx="2"/><path d="M2 14h2"/><path d="M20 14h2"/><path d="M15 13v2"/><path d="M9 13v2"/></svg><div style="position:absolute;left:46.60px;top:151.85px;white-space:nowrap;font-size:14px;font-weight:500;-webkit-text-stroke:0.25px #374151;line-height:14px;color:#374151;letter-spacing:0.370px;">Manage Bots</div><svg style="position:absolute;left:21.5px;top:185.7px;" width="16" height="16" viewBox="0 0 24 24" fill="none" stroke="#9ca3af" stroke-width="2" stroke-linecap="round" stroke-linejoin="round"><path d="M4 14a1 1 0 0 1-.78-1.63l9.9-10.2a.5.5 0 0 1 .86.46l-1.92 6.02A1 1 0 0 0 13 10h7a1 1 0 0 1 .78 1.63l-9.9 10.2a.5.5 0 0 1-.86-.46l1.92-6.02A1 1 0 0 0 11 14z"/></svg><div style="position:absolute;left:46.60px;top:186.65px;white-space:nowrap;font-size:14px;font-weight:500;-webkit-text-stroke:0.25px #9ca3af;line-height:14px;color:#9ca3af;letter-spacing:0.281px;">Agents</div><svg style="position:absolute;left:191px;top:185.7px;" width="16" height="16" viewBox="0 0 24 24" fill="none" stroke="#a58fe6" stroke-width="1.8" stroke-linecap="round" stroke-linejoin="round"><circle cx="12" cy="12" r="10"/><polyline points="12 6 12 12 16 14"/></svg><div style="position:absolute;left:22.60px;top:231.84px;white-space:nowrap;font-size:12px;font-weight:500;-webkit-text-stroke:0.25px #6b7280;line-height:12px;color:#6b7280;letter-spacing:-0.065px;-webkit-text-stroke:0.4px #6b7280">CONFIGURATION</div><svg style="position:absolute;left:21.5px;top:258.2px;" width="16" height="16" viewBox="0 0 24 24" fill="none" stroke="#374151" stroke-width="2" stroke-linecap="round" stroke-linejoin="round"><path d="m16 6 4 14"/><path d="M12 6v14"/><path d="M8 8v12"/><path d="M4 4v16"/></svg><div style="position:absolute;left:46.60px;top:259.15px;white-space:nowrap;font-size:14px;font-weight:500;-webkit-text-stroke:0.25px #374151;line-height:14px;color:#374151;letter-spacing:0.492px;">Content Library</div><svg style="position:absolute;left:21.5px;top:292.2px;" width="16" height="16" viewBox="0 0 24 24" fill="none" stroke="#374151" stroke-width="2" stroke-linecap="round" stroke-linejoin="round"><path d="M20 13c0 5-3.5 7.5-7.66 8.95a1 1 0 0 1-.67-.01C7.5 20.5 4 18 4 13V6a1 1 0 0 1 1-1c2 0 4.5-1.2 6.24-2.72a1.17 1.17 0 0 1 1.52 0C14.51 3.81 17 5 19 5a1 1 0 0 1 1 1z"/></svg><div style="position:absolute;left:46.60px;top:293.15px;white-space:nowrap;font-size:14px;font-weight:500;-webkit-text-stroke:0.25px #374151;line-height:14px;color:#374151;letter-spacing:0.407px;">Safety Filters</div><svg style="position:absolute;left:21.5px;top:326.9px;" width="16" height="16" viewBox="0 0 24 24" fill="none" stroke="#9ca3af" stroke-width="2" stroke-linecap="round" stroke-linejoin="round"><rect width="8" height="4" x="8" y="2" rx="1" ry="1"/><path d="M16 4h2a2 2 0 0 1 2 2v14a2 2 0 0 1-2 2H6a2 2 0 0 1-2-2V6a2 2 0 0 1 2-2h2"/><path d="M12 11h4"/><path d="M12 16h4"/><path d="M8 11h.01"/><path d="M8 16h.01"/></svg><div style="position:absolute;left:46.60px;top:327.85px;white-space:nowrap;font-size:14px;font-weight:500;-webkit-text-stroke:0.25px #9ca3af;line-height:14px;color:#9ca3af;letter-spacing:0.146px;">Review Rules</div><svg style="position:absolute;left:191px;top:326.9px;" width="16" height="16" viewBox="0 0 24 24" fill="none" stroke="#a58fe6" stroke-width="1.8" stroke-linecap="round" stroke-linejoin="round"><circle cx="12" cy="12" r="10"/><polyline points="12 6 12 12 16 14"/></svg><svg style="position:absolute;left:21.5px;top:361.59999999999997px;" width="16" height="16" viewBox="0 0 24 24" fill="none" stroke="#9ca3af" stroke-width="2" stroke-linecap="round" stroke-linejoin="round"><path d="M10 13a5 5 0 0 0 7.54.54l3-3a5 5 0 0 0-7.07-7.07l-1.72 1.71"/><path d="M14 11a5 5 0 0 0-7.54-.54l-3 3a5 5 0 0 0 7.07 7.07l1.71-1.71"/></svg><div style="position:absolute;left:46.60px;top:362.55px;white-space:nowrap;font-size:14px;font-weight:500;-webkit-text-stroke:0.25px #9ca3af;line-height:14px;color:#9ca3af;letter-spacing:0.517px;">Connections</div><svg style="position:absolute;left:191px;top:361.59999999999997px;" width="16" height="16" viewBox="0 0 24 24" fill="none" stroke="#a58fe6" stroke-width="1.8" stroke-linecap="round" stroke-linejoin="round"><circle cx="12" cy="12" r="10"/><polyline points="12 6 12 12 16 14"/></svg><div style="position:absolute;left:22.60px;top:408.04px;white-space:nowrap;font-size:12px;font-weight:500;-webkit-text-stroke:0.25px #6b7280;line-height:12px;color:#6b7280;letter-spacing:0.043px;-webkit-text-stroke:0.4px #6b7280">MANAGEMENT</div><svg style="position:absolute;left:21.5px;top:434.2px;" width="16" height="16" viewBox="0 0 24 24" fill="none" stroke="#374151" stroke-width="2" stroke-linecap="round" stroke-linejoin="round"><path d="M16 21v-2a4 4 0 0 0-4-4H6a4 4 0 0 0-4 4v2"/><circle cx="9" cy="7" r="4"/><path d="M22 21v-2a4 4 0 0 0-3-3.87"/><path d="M16 3.13a4 4 0 0 1 0 7.75"/></svg><div style="position:absolute;left:46.60px;top:435.15px;white-space:nowrap;font-size:14px;font-weight:500;-webkit-text-stroke:0.25px #374151;line-height:14px;color:#374151;letter-spacing:0.255px;">Team</div><svg style="position:absolute;left:21.5px;top:468.3px;" width="16" height="16" viewBox="0 0 24 24" fill="none" stroke="#374151" stroke-width="2" stroke-linecap="round" stroke-linejoin="round"><rect width="18" height="11" x="3" y="11" rx="2" ry="2"/><path d="M7 11V7a5 5 0 0 1 10 0v4"/></svg><div style="position:absolute;left:46.60px;top:469.25px;white-space:nowrap;font-size:14px;font-weight:500;-webkit-text-stroke:0.25px #374151;line-height:14px;color:#374151;letter-spacing:0.562px;">Compliance</div><div style="position:absolute;left:22.60px;top:513.34px;white-space:nowrap;font-size:12px;font-weight:500;-webkit-text-stroke:0.25px #6b7280;line-height:12px;color:#6b7280;letter-spacing:0.150px;-webkit-text-stroke:0.4px #6b7280">ANALYTICS</div><svg style="position:absolute;left:21.5px;top:539.6px;" width="16" height="16" viewBox="0 0 24 24" fill="none" stroke="#374151" stroke-width="2" stroke-linecap="round" stroke-linejoin="round"><path d="M22 12h-2.48a2 2 0 0 0-1.93 1.46l-2.35 8.36a.25.25 0 0 1-.48 0L9.24 2.18a.25.25 0 0 0-.48 0l-2.35 8.36A2 2 0 0 1 4.49 12H2"/></svg><div style="position:absolute;left:46.60px;top:540.55px;white-space:nowrap;font-size:14px;font-weight:500;-webkit-text-stroke:0.25px #374151;line-height:14px;color:#374151;letter-spacing:0.655px;">Live Activity</div><svg style="position:absolute;left:21.5px;top:573.9000000000001px;" width="16" height="16" viewBox="0 0 24 24" fill="none" stroke="#9ca3af" stroke-width="2" stroke-linecap="round" stroke-linejoin="round"><path d="m12 14 4-4"/><path d="M3.34 19a10 10 0 1 1 17.32 0"/></svg><div style="position:absolute;left:46.60px;top:574.85px;white-space:nowrap;font-size:14px;font-weight:500;-webkit-text-stroke:0.25px #9ca3af;line-height:14px;color:#9ca3af;letter-spacing:0.232px;">Speed & Reliability</div><div style="position:absolute;left:0;top:827px;width:222px;height:1px;background:#e5e7eb"></div><div style="position:absolute;left:22.50px;top:846.24px;white-space:nowrap;font-size:12px;font-weight:500;-webkit-text-stroke:0.25px #4b5563;line-height:12px;color:#4b5563;letter-spacing:-0.367px;">NEED HELP?</div><div style="position:absolute;left:22.50px;top:869.84px;white-space:nowrap;font-size:12px;font-weight:400;line-height:12px;color:#6b7280;letter-spacing:0.420px;">Check our documentation</div><div style="position:absolute;left:10.3px;top:892px;width:199.6px;height:27.5px;border-radius:6px;background:#ede9fe"></div><svg style="position:absolute;left:22px;top:898px;" width="16" height="16" viewBox="0 0 24 24" fill="none" stroke="#7c3aed" stroke-width="2" stroke-linecap="round" stroke-linejoin="round"><circle cx="12" cy="12" r="10"/><path d="M9.09 9a3 3 0 0 1 5.83 1c0 2-3 3-3 3"/><path d="M12 17h.01"/></svg><div style="position:absolute;left:46.00px;top:900.34px;white-space:nowrap;font-size:12px;font-weight:500;-webkit-text-stroke:0.25px #6d28d9;line-height:12px;color:#6d28d9;letter-spacing:0.509px;">View Documentation</div><div id="main" style="position:absolute;left:222px;top:60px;width:1272px;height:879px;background-color:#f1f4fb;box-shadow:inset 2px 2px 4px rgba(0,0,0,0.025);background-image:radial-gradient(circle at center,#d0d4dc 0.8px,rgba(208,212,220,0) 1.4px),radial-gradient(circle at center,#d0d4dc 0.8px,rgba(208,212,220,0) 1.4px);background-size:50px 50px,50px 50px;background-position:-24px -11px,1px 14px"></div><div style="position:absolute;left:247.00px;top:82.78px;white-space:nowrap;font-size:24px;font-weight:700;line-height:24px;color:#111827;letter-spacing:0.448px;background:#f1f4fb;-webkit-text-stroke:0.2px #111827">Welcome back, Vitaly!</div><div style="position:absolute;left:246.80px;top:114.96px;white-space:nowrap;font-size:16px;font-weight:400;line-height:16px;color:#6b7280;letter-spacing:0.565px;background:#f1f4fb">Here's an overview of your platform activity</div><div style="position:absolute;left:1233.5px;top:88.6px;width:237.8px;height:36.4px;border-radius:8px;background:#ffffff;box-shadow:0 0 0 1px rgba(229,231,235,0.5)"></div><svg style="position:absolute;left:1248.5px;top:98.8px;" width="16" height="16" viewBox="0 0 24 24" fill="none" stroke="#6b7280" stroke-width="2" stroke-linecap="round" stroke-linejoin="round"><circle cx="12" cy="12" r="10"/><polyline points="12 6 12 12 16 14"/></svg><div style="position:absolute;left:1273.80px;top:100.35px;white-space:nowrap;font-size:14px;font-weight:400;line-height:14px;color:#6b7280;letter-spacing:0.459px;">Last updated: 23 May 2025</div><div style="position:absolute;left:247.0px;top:160px;width:292.25px;height:120px;border-radius:8px;background:#fff;overflow:hidden;box-shadow:0 0 0 1px #e9ecf1,0 1px 2px rgba(0,0,0,0.05)"><div style="position:absolute;left:0;top:88px;width:100%;height:32px;background:#f3f4f7"></div></div><svg style="position:absolute;left:262.8px;top:178.3px;" width="16" height="16" viewBox="0 0 24 24" fill="none" stroke="#8068dc" stroke-width="2" stroke-linecap="round" stroke-linejoin="round"><path d="M12 8V4H8"/><rect width="16" height="12" x="4" y="8" rx="2"/><path d="M2 14h2"/><path d="M20 14h2"/><path d="M15 13v2"/><path d="M9 13v2"/></svg><div style="position:absolute;left:287.60px;top:179.05px;white-space:nowrap;font-size:14px;font-weight:500;-webkit-text-stroke:0.25px #374151;line-height:14px;color:#374151;letter-spacing:0.447px;">Active Bots</div><div style="position:absolute;left:263.80px;top:207.60px;white-space:nowrap;font-size:30px;font-weight:700;line-height:30px;color:#1f2937;letter-spacing:0.000px;-webkit-text-stroke:0.3px #1f2937">2</div><div style="position:absolute;left:263.00px;top:257.52px;white-space:nowrap;font-size:12.5px;font-weight:400;line-height:12.5px;color:#9ca3af;letter-spacing:0.089px;">Change vs. last week</div><div style="position:absolute;left:509.51px;top:257.64px;white-space:nowrap;font-size:12px;font-weight:400;line-height:12px;color:#16a34a;letter-spacing:0.000px;">+1</div><svg style="position:absolute;left:0px;top:0px;left:489.11px;top:256.5px" width="15" height="15" viewBox="0 0 24 24" fill="none" stroke="#16a34a" stroke-width="2.7" stroke-linecap="round" stroke-linejoin="round"><path d="m5 12 7-7 7 7"/><path d="M12 19V5"/></svg><div style="position:absolute;left:557.25px;top:160px;width:292.25px;height:120px;border-radius:8px;background:#fff;overflow:hidden;box-shadow:0 0 0 1px #e9ecf1,0 1px 2px rgba(0,0,0,0.05)"><div style="position:absolute;left:0;top:88px;width:100%;height:32px;background:#f3f4f7"></div></div><svg style="position:absolute;left:573.05px;top:178.3px;" width="16" height="16" viewBox="0 0 24 24" fill="none" stroke="#8068dc" stroke-width="2" stroke-linecap="round" stroke-linejoin="round"><path d="M14 9a2 2 0 0 1-2 2H6l-4 4V4c0-1.1.9-2 2-2h8a2 2 0 0 1 2 2v5Z"/><path d="M18 9h2a2 2 0 0 1 2 2v11l-4-4h-6a2 2 0 0 1-2-2v-1"/></svg><div style="position:absolute;left:597.85px;top:179.05px;white-space:nowrap;font-size:14px;font-weight:500;-webkit-text-stroke:0.25px #374151;line-height:14px;color:#374151;letter-spacing:0.542px;">Conversations</div><div style="position:absolute;left:574.05px;top:207.60px;white-space:nowrap;font-size:30px;font-weight:700;line-height:30px;color:#1f2937;letter-spacing:0.000px;-webkit-text-stroke:0.3px #1f2937;transform:scaleX(0.9928);transform-origin:0 0">124</div><div style="position:absolute;left:573.25px;top:257.52px;white-space:nowrap;font-size:12.5px;font-weight:400;line-height:12.5px;color:#9ca3af;letter-spacing:0.089px;">Change vs. last week</div><div style="position:absolute;left:813.09px;top:257.64px;white-space:nowrap;font-size:12px;font-weight:400;line-height:12px;color:#16a34a;letter-spacing:0.000px;">+16</div><svg style="position:absolute;left:0px;top:0px;left:792.69px;top:256.5px" width="15" height="15" viewBox="0 0 24 24" fill="none" stroke="#16a34a" stroke-width="2.7" stroke-linecap="round" stroke-linejoin="round"><path d="m5 12 7-7 7 7"/><path d="M12 19V5"/></svg><div style="position:absolute;left:867.5px;top:160px;width:292.25px;height:120px;border-radius:8px;background:#fff;overflow:hidden;box-shadow:0 0 0 1px #e9ecf1,0 1px 2px rgba(0,0,0,0.05)"><div style="position:absolute;left:0;top:88px;width:100%;height:32px;background:#f3f4f7"></div></div><svg style="position:absolute;left:883.3px;top:178.3px;" width="16" height="16" viewBox="0 0 24 24" fill="none" stroke="#8068dc" stroke-width="2" stroke-linecap="round" stroke-linejoin="round"><path d="M21 15a2 2 0 0 1-2 2H7l-4 4V5a2 2 0 0 1 2-2h14a2 2 0 0 1 2 2z"/></svg><div style="position:absolute;left:908.10px;top:179.05px;white-space:nowrap;font-size:14px;font-weight:500;-webkit-text-stroke:0.25px #374151;line-height:14px;color:#374151;letter-spacing:0.598px;">Messages</div><div style="position:absolute;left:884.30px;top:207.60px;white-space:nowrap;font-size:30px;font-weight:700;line-height:30px;color:#1f2937;letter-spacing:0.000px;-webkit-text-stroke:0.3px #1f2937;transform:scaleX(1.0637);transform-origin:0 0">1458</div><div style="position:absolute;left:883.50px;top:257.52px;white-space:nowrap;font-size:12.5px;font-weight:400;line-height:12.5px;color:#9ca3af;letter-spacing:0.089px;">Change vs. last week</div><div style="position:absolute;left:1116.67px;top:257.64px;white-space:nowrap;font-size:12px;font-weight:400;line-height:12px;color:#16a34a;letter-spacing:0.000px;">+124</div><svg style="position:absolute;left:0px;top:0px;left:1096.27px;top:256.5px" width="15" height="15" viewBox="0 0 24 24" fill="none" stroke="#16a34a" stroke-width="2.7" stroke-linecap="round" stroke-linejoin="round"><path d="m5 12 7-7 7 7"/><path d="M12 19V5"/></svg><div style="position:absolute;left:1177.75px;top:160px;width:292.25px;height:120px;border-radius:8px;background:#fff;overflow:hidden;box-shadow:0 0 0 1px #e9ecf1,0 1px 2px rgba(0,0,0,0.05)"><div style="position:absolute;left:0;top:88px;width:100%;height:32px;background:#f3f4f7"></div></div><svg style="position:absolute;left:1193.55px;top:178.3px;" width="16" height="16" viewBox="0 0 24 24" fill="none" stroke="#8068dc" stroke-width="2" stroke-linecap="round" stroke-linejoin="round"><path d="M4 14a1 1 0 0 1-.78-1.63l9.9-10.2a.5.5 0 0 1 .86.46l-1.92 6.02A1 1 0 0 0 13 10h7a1 1 0 0 1 .78 1.63l-9.9 10.2a.5.5 0 0 1-.86-.46l1.92-6.02A1 1 0 0 0 11 14z"/></svg><div style="position:absolute;left:1218.35px;top:179.05px;white-space:nowrap;font-size:14px;font-weight:500;-webkit-text-stroke:0.25px #374151;line-height:14px;color:#374151;letter-spacing:0.441px;">Self-Service Rate</div><div style="position:absolute;left:1194.55px;top:207.60px;white-space:nowrap;font-size:30px;font-weight:700;line-height:30px;color:#1f2937;letter-spacing:0.000px;-webkit-text-stroke:0.3px #1f2937;transform:scaleX(1.1075);transform-origin:0 0">92%</div><div style="position:absolute;left:1193.75px;top:257.52px;white-space:nowrap;font-size:12.5px;font-weight:400;line-height:12.5px;color:#9ca3af;letter-spacing:0.089px;">Change vs. last week</div><div style="position:absolute;left:1436.61px;top:257.64px;white-space:nowrap;font-size:12px;font-weight:400;line-height:12px;color:#16a34a;letter-spacing:0.000px;">5%</div><svg style="position:absolute;left:0px;top:0px;left:1416.21px;top:256.5px" width="15" height="15" viewBox="0 0 24 24" fill="none" stroke="#16a34a" stroke-width="2.7" stroke-linecap="round" stroke-linejoin="round"><path d="m5 12 7-7 7 7"/><path d="M12 19V5"/></svg><div style="position:absolute;left:246px;top:305px;width:1225px;height:419px;border-radius:8px;background:#fff;box-shadow:0 0 0 1px #eceef2,0 1px 2px rgba(0,0,0,0.04)"></div><div style="position:absolute;left:270.80px;top:334.26px;white-space:nowrap;font-size:18px;font-weight:600;line-height:18px;color:#111827;letter-spacing:0.153px;">Analytics Overview</div><div style="position:absolute;left:270.80px;top:360.15px;white-space:nowrap;font-size:14px;font-weight:400;line-height:14px;color:#6b7280;letter-spacing:0.373px;">Key metrics and trends over time</div><div style="position:absolute;left:1150px;top:332.4px;width:295.6px;height:40.4px;border-radius:8px;background:#f3f4f6"></div><div style="position:absolute;left:1299px;top:336.4px;width:144px;height:33px;border-radius:6px;background:#fff;box-shadow:0 1px 3px rgba(0,0,0,0.12)"></div><div style="position:absolute;left:1179.00px;top:346.45px;white-space:nowrap;font-size:14px;font-weight:500;-webkit-text-stroke:0.25px #4b5563;line-height:14px;color:#4b5563;letter-spacing:0.517px;">Conversations</div><div style="position:absolute;left:1337.00px;top:346.45px;white-space:nowrap;font-size:14px;font-weight:500;-webkit-text-stroke:0.25px #7c3aed;line-height:14px;color:#7c3aed;letter-spacing:0.598px;">Messages</div><svg style="position:absolute;left:0;top:0" width="1494" height="991"><defs><linearGradient id="ag" x1="0" y1="0" x2="0" y2="1"><stop offset="0" stop-color="#8b5cf6" stop-opacity="0.85"/><stop offset="1" stop-color="#8b5cf6" stop-opacity="0.1"/></linearGradient><linearGradient id="lg" x1="0" y1="0" x2="1" y2="1"><stop offset="0" stop-color="#6d4de6"/><stop offset="1" stop-color="#8a55d0"/></linearGradient></defs><line x1="333" x2="1416" y1="605.80" y2="605.80" stroke="#f0f1f4" stroke-width="1" stroke-dasharray="3 3"/><line x1="333" x2="1416" y1="540.80" y2="540.80" stroke="#f0f1f4" stroke-width="1" stroke-dasharray="3 3"/><line x1="333" x2="1416" y1="475.80" y2="475.80" stroke="#f0f1f4" stroke-width="1" stroke-dasharray="3 3"/><line x1="333" x2="1416" y1="410.80" y2="410.80" stroke="#f0f1f4" stroke-width="1" stroke-dasharray="3 3"/><path d="M330.00,615.09C375.25,596.51,420.50,577.94,465.75,577.94C511.00,577.94,556.25,592.80,601.50,592.80C646.75,592.80,692.00,552.56,737.25,540.80C782.50,529.04,827.75,533.06,873.00,522.23C918.25,511.40,963.50,475.80,1008.75,475.80C1054.00,475.80,1099.25,540.80,1144.50,540.80C1189.75,540.80,1235.00,480.75,1280.25,459.09C1325.50,437.42,1370.75,424.11,1416.00,410.80L1416.00,670.80L330.00,670.80Z" fill="url(#ag)"/><path d="M330.00,615.09C375.25,596.51,420.50,577.94,465.75,577.94C511.00,577.94,556.25,592.80,601.50,592.80C646.75,592.80,692.00,552.56,737.25,540.80C782.50,529.04,827.75,533.06,873.00,522.23C918.25,511.40,963.50,475.80,1008.75,475.80C1054.00,475.80,1099.25,540.80,1144.50,540.80C1189.75,540.80,1235.00,480.75,1280.25,459.09C1325.50,437.42,1370.75,424.11,1416.00,410.80" fill="none" stroke="#7f63d8" stroke-width="1"/><line x1="330" x2="1416" y1="670.80" y2="670.80" stroke="#b9bec7" stroke-width="1" stroke-dasharray="3 3"/></svg><div style="position:absolute;left:315.31px;top:664.94px;white-space:nowrap;font-size:12px;font-weight:400;line-height:12px;color:#858b96;letter-spacing:0.000px;">0</div><div style="position:absolute;left:307.84px;top:599.94px;white-space:nowrap;font-size:12px;font-weight:400;line-height:12px;color:#858b96;letter-spacing:0.802px;">35</div><div style="position:absolute;left:307.84px;top:534.94px;white-space:nowrap;font-size:12px;font-weight:400;line-height:12px;color:#858b96;letter-spacing:0.802px;">70</div><div style="position:absolute;left:300.77px;top:469.94px;white-space:nowrap;font-size:12px;font-weight:400;line-height:12px;color:#858b96;letter-spacing:0.601px;">105</div><div style="position:absolute;left:300.77px;top:404.94px;white-space:nowrap;font-size:12px;font-weight:400;line-height:12px;color:#858b96;letter-spacing:0.601px;">140</div><div style="position:absolute;left:309.83px;top:678.14px;white-space:nowrap;font-size:12px;font-weight:400;line-height:12px;color:#858b96;letter-spacing:0.598px;">Mar 23</div><div style="position:absolute;left:445.58px;top:678.14px;white-space:nowrap;font-size:12px;font-weight:400;line-height:12px;color:#858b96;letter-spacing:0.598px;">Mar 30</div><div style="position:absolute;left:582.41px;top:678.14px;white-space:nowrap;font-size:12px;font-weight:400;line-height:12px;color:#858b96;letter-spacing:0.566px;">Apr 06</div><div style="position:absolute;left:718.16px;top:678.14px;white-space:nowrap;font-size:12px;font-weight:400;line-height:12px;color:#858b96;letter-spacing:0.566px;">Apr 13</div><div style="position:absolute;left:853.91px;top:678.14px;white-space:nowrap;font-size:12px;font-weight:400;line-height:12px;color:#858b96;letter-spacing:0.566px;">Apr 20</div><div style="position:absolute;left:989.66px;top:678.14px;white-space:nowrap;font-size:12px;font-weight:400;line-height:12px;color:#858b96;letter-spacing:0.566px;">Apr 27</div><div style="position:absolute;left:1123.25px;top:678.14px;white-space:nowrap;font-size:12px;font-weight:400;line-height:12px;color:#858b96;letter-spacing:0.630px;">May 04</div><div style="position:absolute;left:1259.48px;top:678.14px;white-space:nowrap;font-size:12px;font-weight:400;line-height:12px;color:#858b96;letter-spacing:0.616px;">May 11</div><div style="position:absolute;left:1394.75px;top:678.14px;white-space:nowrap;font-size:12px;font-weight:400;line-height:12px;color:#858b96;letter-spacing:0.630px;">May 18</div><div style="position:absolute;left:275px;top:540px;width:0;height:0"><div style="position:absolute;transform:translate(-50%,-50%) rotate(-90deg);white-space:nowrap;font-size:12px;color:#9ca3af;line-height:12px">Messages</div></div><div style="position:absolute;left:246.6px;top:749.3px;width:807.4px;height:400px;border-radius:8px;background:#fff;box-shadow:0 0 0 1px #eceef2,0 1px 2px rgba(0,0,0,0.04)"></div><div style="position:absolute;left:271.30px;top:779.66px;white-space:nowrap;font-size:18px;font-weight:600;line-height:18px;color:#111827;letter-spacing:0.018px;">Recent Bot Activity</div><div style="position:absolute;left:271.30px;top:804.95px;white-space:nowrap;font-size:14px;font-weight:400;line-height:14px;color:#6b7280;letter-spacing:0.511px;">Latest activity from your bots</div><div style="position:absolute;left:271px;top:838.8px;width:759px;height:64.7px;border-radius:8px;background:#f9fafb"></div><div style="position:absolute;left:283px;top:851.8px;width:39.5px;height:39.5px;border-radius:50%;background:#ede9fe"></div><svg style="position:absolute;left:292.5px;top:861.3px;" width="20" height="20" viewBox="0 0 24 24" fill="none" stroke="#7c3aed" stroke-width="2" stroke-linecap="round" stroke-linejoin="round"><path d="M12 8V4H8"/><rect width="16" height="12" x="4" y="8" rx="2"/><path d="M2 14h2"/><path d="M20 14h2"/><path d="M15 13v2"/><path d="M9 13v2"/></svg><div style="position:absolute;left:338.80px;top:853.76px;white-space:nowrap;font-size:16px;font-weight:500;-webkit-text-stroke:0.25px #111827;line-height:16px;color:#111827;letter-spacing:0.606px;">HoverBot Product Support Bot</div><svg style="position:absolute;left:338.7px;top:878.0999999999999px;" width="14.5" height="14.5" viewBox="0 0 24 24" fill="none" stroke="#6b7280" stroke-width="2" stroke-linecap="round" stroke-linejoin="round"><circle cx="12" cy="12" r="10"/><polyline points="12 6 12 12 16 14"/></svg><div style="position:absolute;left:357.00px;top:879.82px;white-space:nowrap;font-size:12.5px;font-weight:400;line-height:12.5px;color:#6b7280;letter-spacing:0.166px;">6 seconds ago</div><div style="position:absolute;left:821.80px;top:852.75px;white-space:nowrap;font-size:14px;font-weight:400;line-height:14px;color:#6b7280;letter-spacing:0.477px;">28 conversations</div><div style="position:absolute;left:843.80px;top:877.45px;white-space:nowrap;font-size:14px;font-weight:400;line-height:14px;color:#6b7280;letter-spacing:0.089px;">114 messages</div><div style="position:absolute;left:950.8px;top:856.4px;width:67.5px;height:31.8px;border-radius:16px;background:#dcfce7"></div><div style="position:absolute;left:963.40px;top:865.25px;white-space:nowrap;font-size:14px;font-weight:500;-webkit-text-stroke:0.25px #15803d;line-height:14px;color:#15803d;letter-spacing:0.815px;">Active</div><div style="position:absolute;left:271px;top:923.8px;width:759px;height:64.7px;border-radius:8px;background:#f9fafb"></div><div style="position:absolute;left:283px;top:936.8px;width:39.5px;height:39.5px;border-radius:50%;background:#ede9fe"></div><svg style="position:absolute;left:292.5px;top:946.3px;" width="20" height="20" viewBox="0 0 24 24" fill="none" stroke="#7c3aed" stroke-width="2" stroke-linecap="round" stroke-linejoin="round"><path d="M12 8V4H8"/><rect width="16" height="12" x="4" y="8" rx="2"/><path d="M2 14h2"/><path d="M20 14h2"/><path d="M15 13v2"/><path d="M9 13v2"/></svg><div style="position:absolute;left:338.80px;top:938.76px;white-space:nowrap;font-size:16px;font-weight:500;-webkit-text-stroke:0.25px #111827;line-height:16px;color:#111827;letter-spacing:0.000px;">Test Bot</div><svg style="position:absolute;left:338.7px;top:963.0999999999999px;" width="14.5" height="14.5" viewBox="0 0 24 24" fill="none" stroke="#6b7280" stroke-width="2" stroke-linecap="round" stroke-linejoin="round"><circle cx="12" cy="12" r="10"/><polyline points="12 6 12 12 16 14"/></svg><div style="position:absolute;left:357.00px;top:964.82px;white-space:nowrap;font-size:12.5px;font-weight:400;line-height:12.5px;color:#6b7280;letter-spacing:0.000px;">6 seconds ago</div><div style="position:absolute;left:821.80px;top:937.75px;white-space:nowrap;font-size:14px;font-weight:400;line-height:14px;color:#6b7280;letter-spacing:0.477px;">28 conversations</div><div style="position:absolute;left:843.80px;top:962.45px;white-space:nowrap;font-size:14px;font-weight:400;line-height:14px;color:#6b7280;letter-spacing:0.089px;">114 messages</div><div style="position:absolute;left:950.8px;top:941.4px;width:67.5px;height:31.8px;border-radius:16px;background:#f3f4f6"></div><div style="position:absolute;left:963.40px;top:950.25px;white-space:nowrap;font-size:14px;font-weight:500;-webkit-text-stroke:0.25px #4b5563;line-height:14px;color:#4b5563;letter-spacing:0.000px;">Inactive</div><div style="position:absolute;left:1079.8px;top:749.3px;width:390.4px;height:400px;border-radius:8px;background:#fff;box-shadow:0 0 0 1px #eceef2,0 1px 2px rgba(0,0,0,0.04)"></div><div style="position:absolute;left:1104.20px;top:779.06px;white-space:nowrap;font-size:18px;font-weight:600;line-height:18px;color:#111827;letter-spacing:-0.125px;">Speed & Reliability</div><div style="position:absolute;left:1104.20px;top:805.45px;white-space:nowrap;font-size:14px;font-weight:400;line-height:14px;color:#6b7280;letter-spacing:0.468px;">How well your bots are performing</div><svg style="position:absolute;left:1104px;top:844px;" width="16" height="16" viewBox="0 0 24 24" fill="none" stroke="#8563e3" stroke-width="2" stroke-linecap="round" stroke-linejoin="round"><line x1="10" x2="14" y1="2" y2="2"/><line x1="12" x2="15" y1="14" y2="11"/><circle cx="12" cy="14" r="8"/></svg><div style="position:absolute;left:1128.30px;top:845.15px;white-space:nowrap;font-size:14px;font-weight:500;-webkit-text-stroke:0.25px #111827;line-height:14px;color:#111827;letter-spacing:0.253px;">Reply Speed</div><div style="position:absolute;left:1410.00px;top:842.12px;white-space:nowrap;font-size:19px;font-weight:700;line-height:19px;color:#111827;letter-spacing:-0.495px;">1.2s</div><div style="position:absolute;left:1104.20px;top:871.64px;white-space:nowrap;font-size:12px;font-weight:400;line-height:12px;color:#6b7280;letter-spacing:0.287px;">Goal: instant replies (under 2s)</div><div style="position:absolute;left:1104px;top:889.6px;width:342px;height:8.7px;border-radius:5px;background:#e5e7eb;overflow:hidden"><div style="width:40%;height:100%;border-radius:5px;background:#8452f3"></div></div><svg style="position:absolute;left:1103.5px;top:936px;" width="16" height="16" viewBox="0 0 24 24" fill="none" stroke="#7c3aed" stroke-width="2" stroke-linecap="round" stroke-linejoin="round"><circle cx="12" cy="12" r="10"/><polyline points="12 6 12 12 16 14"/></svg><div style="position:absolute;left:1128.30px;top:936.95px;white-space:nowrap;font-size:14px;font-weight:500;-webkit-text-stroke:0.25px #111827;line-height:14px;color:#111827;letter-spacing:-0.730px;">Customer satisfaction</div><div style="position:absolute;left:1407.47px;top:933.42px;white-space:nowrap;font-size:19px;font-weight:700;line-height:19px;color:#111827;letter-spacing:0.000px;">85%</div><div style="position:absolute;left:1104.20px;top:963.84px;white-space:nowrap;font-size:12px;font-weight:400;line-height:12px;color:#4b5563;letter-spacing:0.000px;">Goal: happy customers (over 90%)</div><div style="position:absolute;left:1104px;top:982px;width:342px;height:8.7px;border-radius:5px;background:#e5e7eb;overflow:hidden"><div style="width:85%;height:100%;border-radius:5px;background:#8452f3"></div></div></div></div><div style="position:absolute;left:0;top:939px;width:1494px;height:52px;background:rgba(253,253,254,0.6)"></div><div style="position:absolute;left:621.50px;top:958.65px;white-space:nowrap;font-size:14px;font-weight:400;line-height:14px;color:#555d6b;letter-spacing:0.499px;">© 2025 HoverBot. All rights reserved.</div><svg style="position:absolute;left:0;top:986px" width="6" height="5"><path d="M0,0.5L0,5L4.5,5Z" fill="#000"/></svg>
</body></html>
